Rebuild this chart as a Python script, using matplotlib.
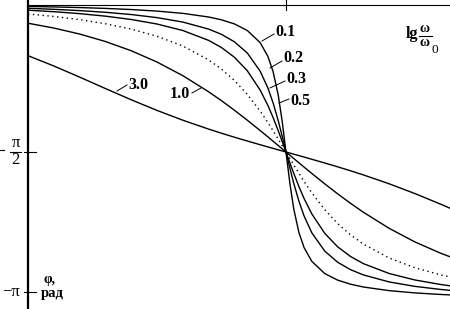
import numpy as np
import matplotlib
matplotlib.use("Agg")
from matplotlib import pyplot as plt
from matplotlib.lines import Line2D

# lg(w/w0) sample positions and phase lag (degrees)
lg_ratio = [-1.0, -0.9, -0.8, -0.7, -0.6, -0.5, -0.4, -0.3, -0.25, -0.2, -0.15, -0.1,
            -0.07, -0.05, -0.03, -0.015, 0.0, 0.015, 0.03, 0.05, 0.07, 0.1, 0.15,
            0.2, 0.25, 0.3, 0.4, 0.5, 0.6, 0.65]

phi_01 = [1.16, 1.47, 1.86, 2.38, 3.07, 4.02, 5.40, 7.62, 9.34, 11.84, 15.85, 23.29,
          31.70, 40.92, 55.35, 70.97, 90.0, 109.03, 124.65, 139.08, 148.30, 156.71,
          164.15, 168.16, 170.66, 172.38, 174.60, 175.98, 176.93, 177.30]
phi_02 = [2.31, 2.93, 3.72, 4.75, 6.12, 8.00, 10.71, 14.99, 18.21, 22.75, 29.58, 40.72,
          51.00, 60.03, 70.94, 80.21, 90.0, 99.79, 109.06, 119.97, 129.00, 139.28,
          150.42, 157.25, 161.79, 165.01, 169.29, 172.00, 173.88, 174.61]
phi_03 = [3.47, 4.39, 5.57, 7.11, 9.14, 11.90, 15.85, 21.88, 26.26, 32.17, 40.41, 52.25,
          61.64, 68.97, 77.03, 83.44, 90.0, 96.56, 102.97, 111.03, 118.36, 127.75,
          139.59, 147.83, 153.74, 158.12, 164.15, 168.10, 170.86, 171.95]
phi_05 = [5.77, 7.29, 9.23, 11.74, 15.01, 19.36, 25.31, 33.80, 39.43, 46.35, 54.83, 65.08,
          72.06, 77.01, 82.13, 86.05, 90.0, 93.95, 97.87, 102.99, 107.94, 114.92,
          125.17, 133.65, 140.57, 146.20, 154.69, 160.64, 164.99, 166.74]
phi_10 = [11.42, 14.35, 18.01, 22.57, 28.20, 35.10, 43.41, 53.24, 58.70, 64.50, 70.59, 76.92,
          80.80, 83.42, 86.05, 88.02, 90.0, 91.98, 93.95, 96.58, 99.20, 103.08,
          109.41, 115.50, 121.30, 126.76, 136.59, 144.90, 151.80, 154.76]
phi_30 = [31.22, 37.51, 44.29, 51.27, 58.13, 64.62, 70.59, 76.02, 78.54, 80.97, 83.30, 85.57,
          86.91, 87.80, 88.68, 89.34, 90.0, 90.66, 91.32, 92.20, 93.09, 94.43,
          96.70, 99.03, 101.46, 103.98, 109.41, 115.38, 121.87, 125.27]

curve_labels = ["0.1", "0.2", "0.3", "0.5", "1.0", "3.0"]
curves = [phi_01, phi_02, phi_03, phi_05, phi_10, phi_30]

W, H = 450, 309
fig = plt.figure(figsize=(W / 100, H / 100), dpi=100)
ax = fig.add_axes([0, 0, 1, 1])
ax.axis("off")
ax.set_xlim(-1.1085, 0.6357)
ax.set_ylim(-185.8, 2.75)

x = np.array(lg_ratio)
for lab, phi in zip(curve_labels, curves):
    ls = (0, (1, 2.5)) if lab == "0.5" else "-"
    ax.plot(x, -np.array(phi), color="black", lw=1.0, ls=ls)

# axes: vertical phase axis and top zero line
ax.plot([-1.0, -1.0], [2.75, -185.8], color="black", lw=1.6, solid_capstyle="butt")
ax.plot([-1.0, 0.64], [0, 0], color="black", lw=0.8)
ax.plot([0, 0], [2.75, -3.4], color="black", lw=0.8)
ax.plot([-1.0155, -0.969], [-90, -90], color="black", lw=0.8)
ax.plot([-1.0155, -0.969], [-175.4, -175.4], color="black", lw=0.8)


def fx(px):
    return px / W


def fy(py):
    return 1 - py / H


serif = "Liberation Serif"

# curve labels with leader lines (pixel positions from the picture)
label_pos = {"0.1": (275, 32.5), "0.2": (283, 58.5), "0.3": (286, 79),
             "0.5": (290, 100.5), "1.0": (170, 94), "3.0": (128, 85)}
leaders = {"0.1": ((262, 41), (274, 34)), "0.2": ((270, 68), (282, 61)),
           "0.3": ((270, 88), (285, 81)), "0.5": ((279, 103), (289, 99)),
           "1.0": ((192, 93), (201, 88)), "3.0": ((117, 91), (127, 85))}
for lab in curve_labels:
    px, py = label_pos[lab]
    fig.text(fx(px), fy(py), lab, family=serif, weight="bold", fontsize=11.5,
             ha="left", va="center")
    (x0, y0), (x1, y1) = leaders[lab]
    fig.add_artist(Line2D([fx(x0), fx(x1)], [fy(y0), fy(y1)], color="black", lw=0.7))

# lg w/w0
fig.text(fx(406), fy(34), "lg", family=serif, weight="bold", fontsize=11.5,
         ha="left", va="center")
fig.text(fx(425), fy(28.5), "ω", family=serif, weight="bold", fontsize=10,
         ha="center", va="center")
fig.add_artist(Line2D([fx(419), fx(432)], [fy(36), fy(36)], color="black", lw=0.8))
fig.text(fx(425), fy(43), "ω", family=serif, weight="bold", fontsize=10,
         ha="center", va="center")
fig.text(fx(431), fy(50), "0", family=serif, fontsize=9.5, ha="left", va="center")

# y labels
fig.text(fx(15.5), fy(143), "π", family=serif, fontsize=12, ha="center", va="center")
fig.add_artist(Line2D([fx(10), fx(21)], [fy(152), fy(152)], color="black", lw=0.8))
fig.text(fx(15.5), fy(160), "2", family=serif, fontsize=12, ha="center", va="center")
fig.add_artist(Line2D([fx(0), fx(4)], [fy(150), fy(150)], color="black", lw=0.8))
fig.text(fx(2), fy(292), "−π", family=serif, fontsize=12, ha="left", va="center")

fig.text(fx(43), fy(279), "φ,", family=serif, weight="bold", fontsize=10,
         ha="left", va="center")
fig.text(fx(41), fy(293.5), "рад", family=serif, weight="bold", fontsize=10.5,
         ha="left", va="center")

fig.savefig("out.png", dpi=100)
